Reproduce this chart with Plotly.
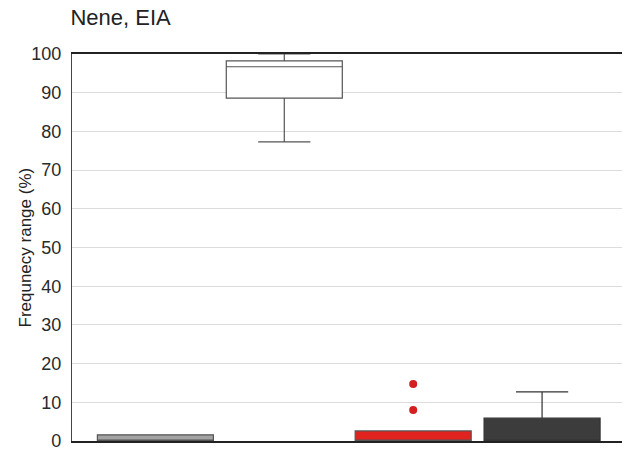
import plotly.graph_objects as go

categories = ["A", "B", "C", "D"]
q1 = [0.0, 88.6, 0.0, 0.0]
median = [0.0, 96.7, 0.0, 0.0]
q3 = [1.6, 98.2, 2.6, 5.9]
lower = [0.0, 77.3, 0.0, 0.0]
upper = [1.6, 100.0, 2.6, 12.7]
fills = ["#a3a3a3", "#ffffff", "#e0231f", "#3c3c3c"]
lines = ["#555555", "#555555", "#555555", "#333333"]
outlier_cat = ["C", "C"]
outlier_val = [8.0, 14.7]
yticks = [0, 10, 20, 30, 40, 50, 60, 70, 80, 90, 100]

fig = go.Figure()
for i, c in enumerate(categories):
    fig.add_trace(go.Box(
        x=[c], q1=[q1[i]], median=[median[i]], q3=[q3[i]],
        lowerfence=[lower[i]], upperfence=[upper[i]],
        fillcolor=fills[i], line=dict(color=lines[i], width=1.2),
        width=0.9, whiskerwidth=0.45, boxpoints=False, showlegend=False,
    ))
fig.add_trace(go.Scatter(
    x=outlier_cat, y=outlier_val, mode="markers",
    marker=dict(color="#d42020", size=8, symbol="circle"), showlegend=False,
))

fig.update_layout(
    width=629, height=461,
    margin=dict(l=72, r=7, t=54, b=20),
    plot_bgcolor="white", paper_bgcolor="white",
    font=dict(family="Liberation Sans, Arial", color="#222222"),
    title=dict(text="Nene, EIA", x=0.112, xanchor="left", y=0.963, yanchor="middle",
               font=dict(size=22, color="#222222")),
    annotations=[dict(
        text="Frequnecy range (%)", textangle=-90, showarrow=False,
        xref="paper", yref="paper", x=(25 - 72) / 550, y=0.5,
        xanchor="center", yanchor="middle",
        font=dict(size=17, color="#222222"),
    )],
)
fig.update_xaxes(
    type="category", categoryorder="array", categoryarray=categories,
    range=[-0.647, 3.62], showticklabels=False, ticks="",
    showline=True, mirror=True, linecolor="#222222", linewidth=1.5, showgrid=False,
)
fig.update_yaxes(
    range=[0, 100], tickvals=yticks, ticks="outside", ticklen=6, tickcolor="rgba(0,0,0,0)",
    tickfont=dict(size=18, color="#2a2a2a"),
    showline=True, linecolor="#444444", linewidth=1.2,
    showgrid=True, gridcolor="#dcdcdc", gridwidth=1, zeroline=False,
)
fig.write_html("out.html")
